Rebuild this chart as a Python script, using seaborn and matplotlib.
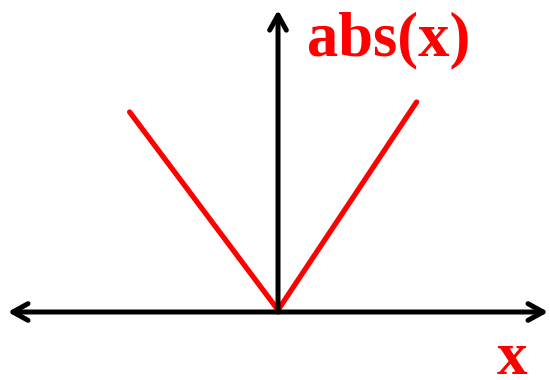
import seaborn as sns
import matplotlib.pyplot as plt
import pandas as pd

sns.set_theme(style='white')
plt.rcParams['font.family'] = ['Liberation Serif', 'DejaVu Serif']

# V-shape
x_vals = [-1.06, 0.0, 0.99]
y_vals = [0.99, 0.0, 1.04]
curve_label = "abs(x)"
axis_label = "x"

df = pd.DataFrame({"x": x_vals, "y": y_vals})

fig = plt.figure(figsize=(5.5, 3.8), dpi=100)
ax = fig.add_axes([0, 0, 1, 1])
ax.set_xlim(-1.986, 1.943)
ax.set_ylim(-0.35, 1.55)
ax.axis('off')

arrow = dict(arrowstyle='->,head_length=0.9,head_width=0.5', lw=3.6, color='black',
             shrinkA=0, shrinkB=0, capstyle='round', joinstyle='round')
arrow2 = dict(arrow, arrowstyle='<->,head_length=0.9,head_width=0.5')
# horizontal axis with two heads, vertical axis with one
ax.annotate('', xy=(1.93, -0.01), xytext=(-1.93, -0.01), arrowprops=arrow2)
ax.annotate('', xy=(0.0, 1.5), xytext=(0.0, -0.01), arrowprops=arrow)

sns.lineplot(data=df, x="x", y="y", color='red', lw=3.8, ax=ax, sort=False,
             solid_joinstyle='miter')

ax.text(0.21, 1.35, curve_label, color='red', fontsize=45, fontweight='bold',
        ha='left', va='center')
ax.text(1.67, -0.245, axis_label, color='red', fontsize=44, fontweight='bold',
        ha='center', va='center')

fig.savefig("out.png", dpi=100)
